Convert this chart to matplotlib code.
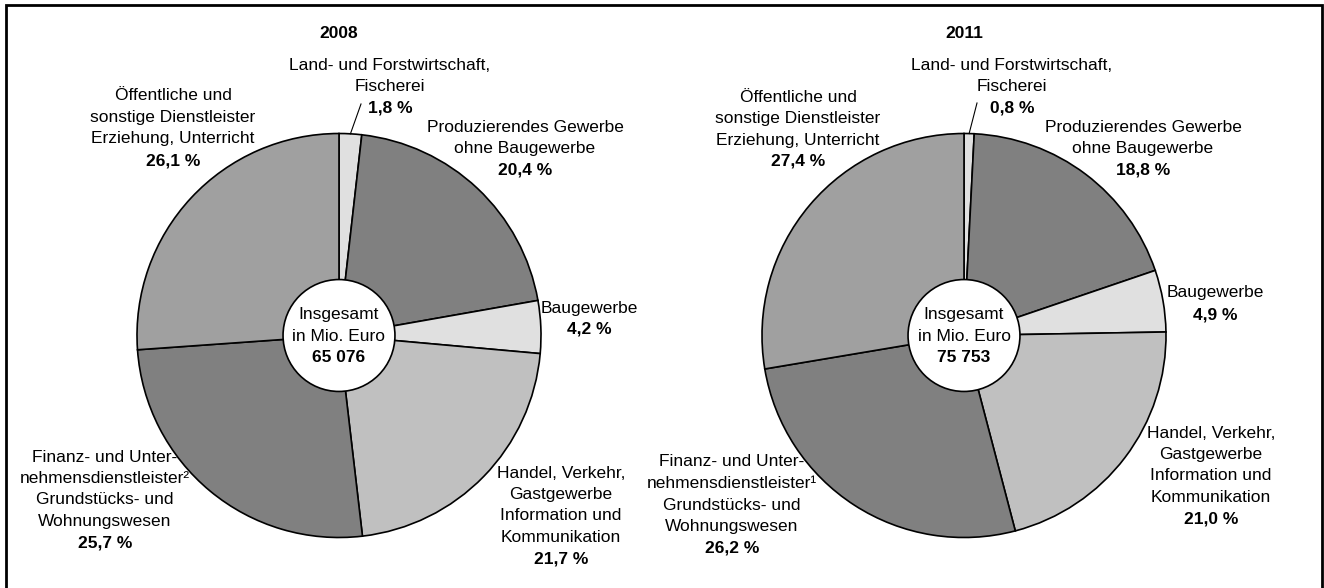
import matplotlib
matplotlib.use("Agg")
import matplotlib.pyplot as plt
from matplotlib.patches import Circle, Rectangle
import numpy as np

plt.rcParams['font.family'] = ['Liberation Sans Narrow', 'Liberation Sans', 'DejaVu Sans']

# data
sectors = ['Land- und Forstwirtschaft,\nFischerei',
           'Produzierendes Gewerbe\nohne Baugewerbe',
           'Baugewerbe',
           'Handel, Verkehr,\nGastgewerbe\nInformation und\nKommunikation',
           'Finanz- und Unter-\nnehmensdienstleister{fn}\nGrundstücks- und\nWohnungswesen',
           'Öffentliche und\nsonstige Dienstleister\nErziehung, Unterricht']
colors = ['#e0e0e0', '#808080', '#e0e0e0', '#c0c0c0', '#808080', '#a0a0a0']

years = ['2008', '2011']
shares_2008 = [1.8, 20.4, 4.2, 21.7, 25.7, 26.1]
shares_2011 = [0.8, 18.8, 4.9, 21.0, 26.2, 27.4]
totals = ['65 076', '75 753']
footnotes = ['²', '¹']

# layout (pixels, from top-left)
W, H = 1324, 588
centers = [(339, 335.5), (964, 335.5)]
R = 202
label_pos = [
    [(390, 65), (525, 127), (589, 308), (561, 473), (105, 457), (173, 96)],
    [(1012, 65), (1143, 127), (1215, 293), (1211, 433), (732, 462), (798, 97)],
]
leader_end = [(361, 104), (977, 103)]
LS = 21.5
FS = 12.5

fig = plt.figure(figsize=(W / 100, H / 100), dpi=100)
ax = fig.add_axes([0, 0, 1, 1])
ax.set_xlim(0, W)
ax.set_ylim(0, H)
ax.axis('off')


def fy(y):
    return H - y


for k, shares in enumerate([shares_2008, shares_2011]):
    cx, cy = centers[k]
    wedges, _ = ax.pie(shares, colors=colors, startangle=90, counterclock=False,
                       radius=R, center=(cx, fy(cy)), frame=True,
                       wedgeprops=dict(edgecolor='black', linewidth=1.2))
    ax.add_patch(Circle((cx, fy(cy)), R * 0.277, facecolor='white',
                        edgecolor='black', linewidth=1.2, zorder=5))

    ax.text(cx, fy(33), years[k], ha='center', va='center', fontsize=FS,
            fontweight='bold')

    ax.text(cx, fy(315), 'Insgesamt', ha='center', va='center', fontsize=FS, zorder=6)
    ax.text(cx, fy(336.5), 'in Mio. Euro', ha='center', va='center', fontsize=FS, zorder=6)
    ax.text(cx, fy(358), totals[k], ha='center', va='center', fontsize=FS,
            fontweight='bold', zorder=6)

    for i, name in enumerate(sectors):
        lines = name.format(fn=footnotes[k]).split('\n')
        x0, y0 = label_pos[k][i]
        for j, line in enumerate(lines):
            ax.text(x0, fy(y0 + j * LS), line, ha='center', va='center', fontsize=FS)
        pct = f'{shares[i]:.1f} %'.replace('.', ',')
        ax.text(x0, fy(y0 + len(lines) * LS), pct, ha='center', va='center',
                fontsize=FS, fontweight='bold')

    # leader line for the small first slice
    w = wedges[0]
    mid = np.deg2rad((w.theta1 + w.theta2) / 2)
    x1 = cx + R * np.cos(mid)
    y1 = fy(cy) + R * np.sin(mid)
    ex, ey = leader_end[k]
    ax.plot([x1, ex], [y1, fy(ey)], color='black', linewidth=0.8)

ax.set_xlim(0, W)
ax.set_ylim(0, H)
ax.set_aspect('auto')
ax.axis('off')

ax.add_patch(Rectangle((6, -10), W - 8, H - 5 + 10, fill=False,
                       edgecolor='black', linewidth=2, clip_on=False))

fig.savefig('out.png', dpi=100)
